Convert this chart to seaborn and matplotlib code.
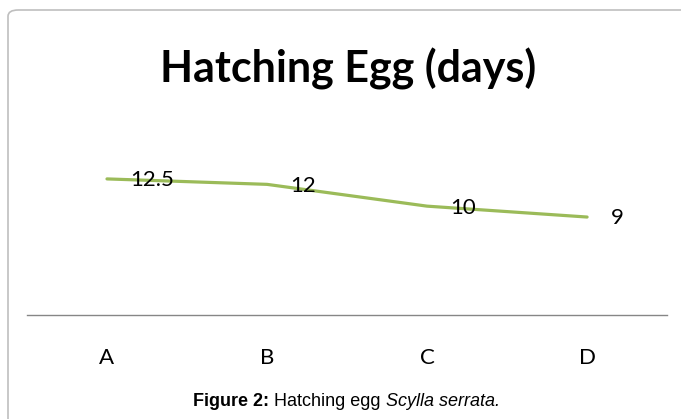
import matplotlib
matplotlib.use("Agg")
import matplotlib.pyplot as plt
from matplotlib.patches import FancyBboxPatch
import seaborn as sns
import pandas as pd

tratamientos = ["A", "B", "C", "D"]
dias = [12.5, 12, 10, 9]
etiquetas = ["12.5", "12", "10", "9"]

df = pd.DataFrame({"Tratamiento": tratamientos, "Dias": dias})

sns.set_style("white")
plt.rcParams["font.family"] = ["Lato", "DejaVu Sans"]
plt.rcParams["text.color"] = "black"
plt.rcParams["xtick.color"] = "black"

fig = plt.figure(figsize=(6.81, 4.19), dpi=100)
ax = fig.add_axes([0.0396, 0.248, 0.94, 0.364])

# marco redondeado del grafico
marco = FancyBboxPatch((8 / 681, -0.1), 1.2, 1.1 - 10 / 419,
                       boxstyle="round,pad=0,rounding_size=0.015",
                       transform=fig.transFigure, fill=False,
                       edgecolor="#BFBFBF", linewidth=1.2, zorder=0)
fig.patches.append(marco)

sns.lineplot(data=df, x="Tratamiento", y="Dias", ax=ax, color="#9BBB59",
             linewidth=2.3, solid_joinstyle="round", solid_capstyle="round")

for i, (v, t) in enumerate(zip(dias, etiquetas)):
    ax.annotate(t, (i, v), xytext=(17, -1), textcoords="offset points",
                ha="left", va="center", fontsize=16, color="black")

ax.set_xlim(-0.5, 3.5)
ax.set_ylim(0, 14)
ax.set_xlabel("")
ax.set_ylabel("")
ax.set_yticks([])
ax.tick_params(axis="x", length=0, pad=23.5, labelsize=16, labelcolor="black")
for s in ["top", "left", "right"]:
    ax.spines[s].set_visible(False)
ax.spines["bottom"].set_color("#868686")
ax.spines["bottom"].set_linewidth(1)

fig.text(348 / 681, 1 - 82 / 419, "Hatching Egg (days)", ha="center",
         va="baseline", fontsize=31, fontweight="bold", color="black")

# pie de figura en tres partes
cap = ["Liberation Sans", "DejaVu Sans"]
t1 = fig.text(193 / 681, 1 - 406 / 419, "Figure 2:", ha="left",
              va="baseline", fontsize=13, fontweight="bold", family=cap)
a2 = fig.add_artist(plt.Annotation(" Hatching egg ", xy=(1, 0), xycoords=t1,
                                   va="bottom", ha="left", fontsize=13,
                                   family=cap))
fig.add_artist(plt.Annotation("Scylla serrata.", xy=(1, 0), xycoords=a2,
                              va="bottom", ha="left", fontsize=13,
                              style="italic", family=cap))

fig.savefig("out.png", dpi=100)
